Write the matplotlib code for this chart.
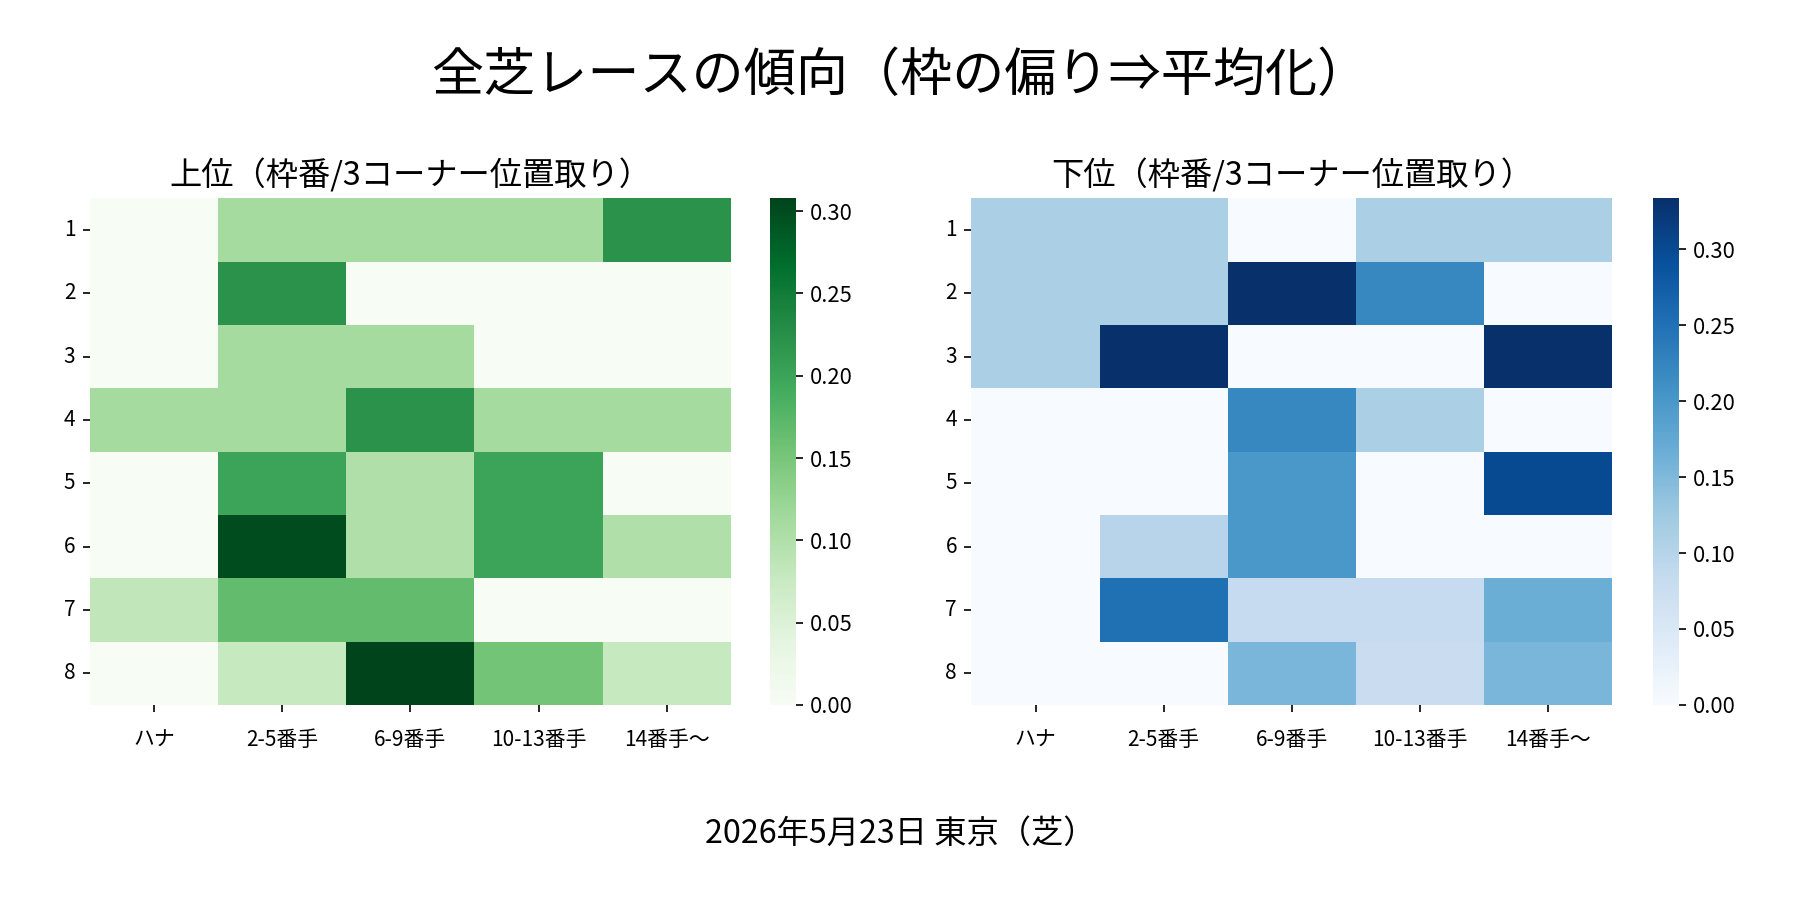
import matplotlib
matplotlib.use("Agg")
import matplotlib.pyplot as plt
import seaborn as sns
import numpy as np
import pandas as pd

plt.rcParams['font.family'] = ['Noto Sans CJK JP', 'DejaVu Sans']

title = "全芝レースの傾向（枠の偏り⇒平均化）"
footer = "2026年5月23日 東京（芝）"
sub_top = "上位（枠番/3コーナー位置取り）"
sub_bot = "下位（枠番/3コーナー位置取り）"

frames = ["1", "2", "3", "4", "5", "6", "7", "8"]
positions = ["ハナ", "2-5番手", "6-9番手", "10-13番手", "14番手～"]

top_values = [
    [0,    1/9,  1/9,  1/9,  2/9],
    [0,    2/9,  0,    0,    0],
    [0,    1/9,  1/9,  0,    0],
    [1/9,  1/9,  2/9,  1/9,  1/9],
    [0,    0.2,  0.1,  0.2,  0],
    [0,    0.3,  0.1,  0.2,  0.1],
    [1/12, 2/12, 2/12, 0,    0],
    [0,    1/13, 4/13, 2/13, 1/13],
]

bottom_values = [
    [1/9,  1/9,  0,    1/9,  1/9],
    [1/9,  1/9,  3/9,  2/9,  0],
    [1/9,  3/9,  0,    0,    3/9],
    [0,    0,    2/9,  1/9,  0],
    [0,    0,    0.2,  0,    0.3],
    [0,    0.1,  0.2,  0,    0],
    [0,    3/12, 1/12, 1/12, 2/12],
    [0,    0,    2/13, 1/13, 2/13],
]

df_top = pd.DataFrame(top_values, index=frames, columns=positions)
df_bot = pd.DataFrame(bottom_values, index=frames, columns=positions)

fig = plt.figure(figsize=(12, 6), dpi=150)

ax1 = fig.add_axes([0.050, 0.2167, 0.356, 0.5628])
cax1 = fig.add_axes([0.428, 0.2167, 0.014, 0.5628])
ax2 = fig.add_axes([0.5397, 0.2167, 0.356, 0.5628])
cax2 = fig.add_axes([0.9186, 0.2167, 0.014, 0.5628])

sns.heatmap(df_top, ax=ax1, cbar_ax=cax1, cmap="Greens")
sns.heatmap(df_bot, ax=ax2, cbar_ax=cax2, cmap="Blues")

for ax, sub in ((ax1, sub_top), (ax2, sub_bot)):
    ax.set_title(sub, fontsize=15.5, pad=6)
    ax.tick_params(axis='both', labelsize=10)
    ax.set_yticklabels(ax.get_yticklabels(), rotation=0)
    ax.set_xticklabels(ax.get_xticklabels(), rotation=0)
    ax.tick_params(axis='x', pad=8)
    ax.set_xlabel("")
    ax.set_ylabel("")

for cax in (cax1, cax2):
    cax.set_yticks([0.0, 0.05, 0.10, 0.15, 0.20, 0.25, 0.30])
    cax.set_yticklabels(["0.00", "0.05", "0.10", "0.15", "0.20", "0.25", "0.30"])
    cax.tick_params(labelsize=10.5)

fig.suptitle(title, fontsize=25, y=0.945)
fig.text(0.5, 0.074, footer, ha='center', va='center', fontsize=15.5)

fig.savefig("out.png", dpi=150)
